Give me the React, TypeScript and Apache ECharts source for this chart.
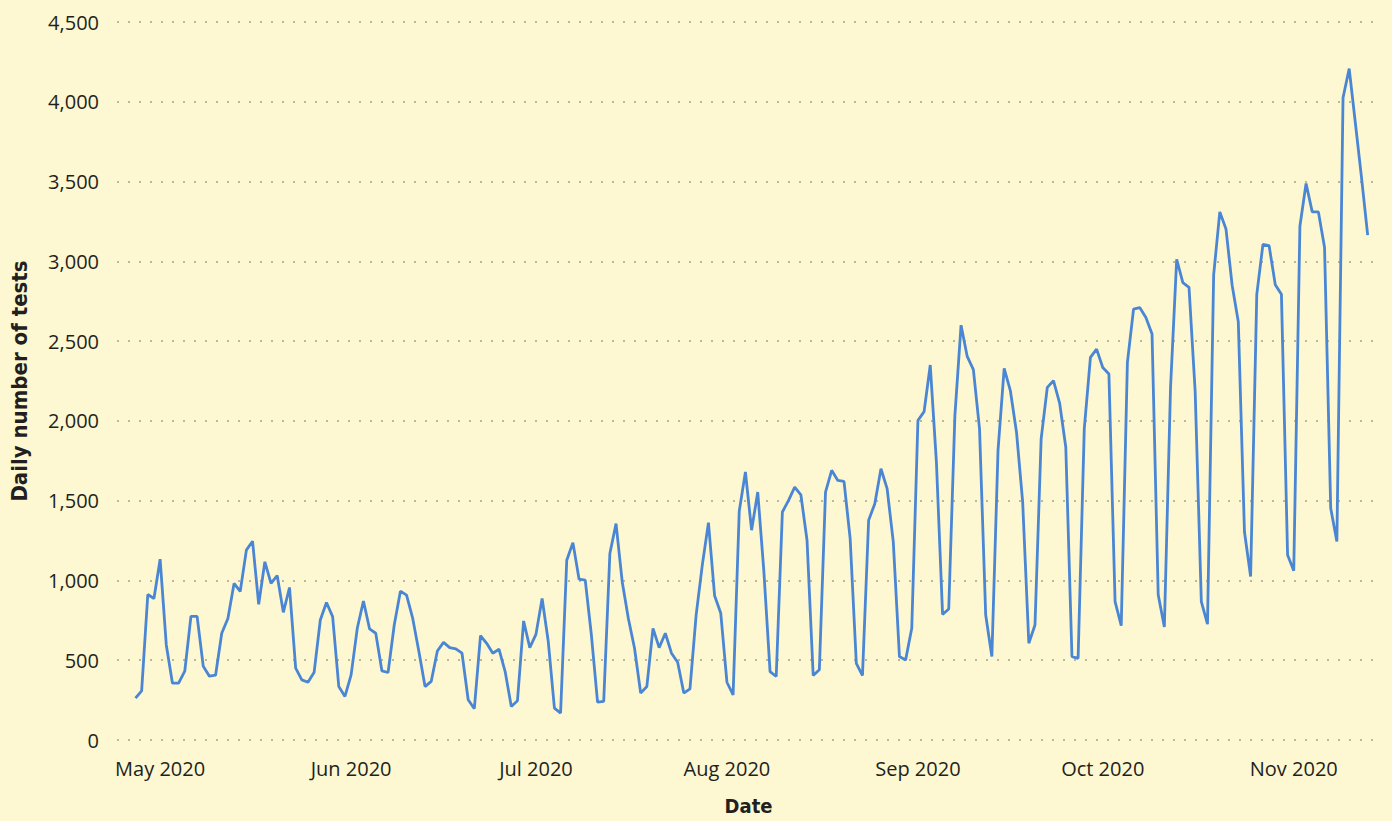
import React, { useEffect, useRef } from "react";
import * as echarts from "echarts";

// First day of the series (UTC date), one value per day
const START: [number, number, number] = [2020, 3, 27]; // 27 Apr 2020

const dailyTests: number[] = [
  262, 308, 912, 887, 1133, 596, 356, 356, 431, 775,
  775, 462, 400, 406, 669, 762, 981, 931, 1190, 1246,
  850, 1117, 981, 1031, 800, 956, 450, 377, 362, 425,
  752, 862, 773, 335, 273, 408, 700, 871, 696, 669,
  433, 423, 721, 933, 908, 762, 554, 335, 367, 558,
  612, 579, 571, 544, 252, 196, 654, 606, 544, 569,
  429, 210, 246, 746, 579, 662, 887, 617, 200, 169,
  1127, 1237, 1008, 1002, 658, 237, 242, 1169, 1356, 992,
  762, 575, 294, 335, 700, 579, 669, 544, 487, 294,
  321, 783, 1096, 1362, 904, 794, 362, 283, 1435, 1680,
  1315, 1554, 1054, 429, 398, 1429, 1502, 1585, 1537, 1252,
  404, 440, 1554, 1690, 1627, 1621, 1262, 481, 404, 1377,
  1481, 1700, 1575, 1242, 523, 502, 700, 2002, 2058, 2350,
  1742, 787, 821, 2033, 2600, 2404, 2321, 1950, 783, 523,
  1815, 2329, 2190, 1929, 1492, 606, 721, 1887, 2210, 2252,
  2112, 1835, 523, 512, 1950, 2398, 2450, 2335, 2294, 867,
  717, 2367, 2700, 2710, 2648, 2544, 910, 708, 2208, 3013,
  2866, 2837, 2184, 867, 726, 2915, 3310, 3203, 2850, 2622,
  1305, 1025, 2793, 3106, 3098, 2854, 2793, 1159, 1061, 3220,
  3488, 3310, 3310, 3086, 1452, 1244, 4025, 4208, 3867, 3525,
  3164,
];

// Month-start tick labels (year, month 0-based)
const monthTicks: [number, number][] = [
  [2020, 4], [2020, 5], [2020, 6], [2020, 7], [2020, 8], [2020, 9], [2020, 10],
];
const monthNames = ["Jan", "Feb", "Mar", "Apr", "May", "Jun", "Jul", "Aug", "Sep", "Oct", "Nov", "Dec"];

// Visible date range of the x axis
const X_MIN: [number, number, number] = [2020, 3, 24];
const X_MAX: [number, number, number] = [2020, 10, 15];

const Y_MIN = 0;
const Y_MAX = 4500;
const Y_STEP = 500;

const X_TITLE = "Date";
const Y_TITLE = "Daily number of tests";

const DAY = 86400000;
const utc = (d: [number, number, number]) => Date.UTC(d[0], d[1], d[2]);
const ORIGIN = utc(X_MIN);
const dayOffset = (t: number) => Math.round((t - ORIGIN) / DAY);

export default function App() {
  const ref = useRef<HTMLDivElement>(null);

  useEffect(() => {
    document.body.style.margin = "0";
    document.body.style.background = "#fdf8d1";
    if (!ref.current) return;
    const chart = echarts.init(ref.current, undefined, { renderer: "svg" });

    const startOffset = dayOffset(utc(START));
    const seriesData = dailyTests.map((v, i) => [startOffset + i, v]);
    const tickValues = monthTicks.map(([y, m]) => dayOffset(Date.UTC(y, m, 1)));

    const textColor = "#231f20";
    const font = "'Open Sans', 'Noto Sans', sans-serif";
    const titleFont = "'DejaVu Sans Condensed', 'Liberation Sans Narrow', 'Open Sans', sans-serif";

    chart.setOption({
      animation: false,
      backgroundColor: "#fdf8d1",
      grid: { left: 116, right: 12, top: 22, bottom: 79, containLabel: false },
      xAxis: {
        type: "value",
        min: 0,
        max: dayOffset(utc(X_MAX)),
        name: X_TITLE,
        nameLocation: "middle",
        nameGap: 56,
        nameTextStyle: {
          color: textColor,
          fontFamily: titleFont,
          fontWeight: "bold",
          fontSize: 20,
        },
        axisLine: { show: false },
        axisTick: { show: false },
        splitLine: { show: false },
        axisLabel: {
          customValues: tickValues,
          color: textColor,
          fontFamily: font,
          fontSize: 20,
          margin: 18,
          formatter: (val: number) => {
            const d = new Date(ORIGIN + val * DAY);
            return `${monthNames[d.getUTCMonth()]} ${d.getUTCFullYear()}`;
          },
        },
      },
      yAxis: {
        type: "value",
        min: Y_MIN,
        max: Y_MAX,
        interval: Y_STEP,
        name: Y_TITLE,
        nameLocation: "middle",
        nameGap: 87,
        nameTextStyle: {
          color: textColor,
          fontFamily: titleFont,
          fontWeight: "bold",
          fontSize: 22,
        },
        axisLine: { show: false },
        axisTick: { show: false },
        axisLabel: {
          color: textColor,
          fontFamily: font,
          fontSize: 20,
          margin: 18,
          formatter: (v: number) => v.toLocaleString("en-US"),
        },
        splitLine: {
          show: true,
          lineStyle: { color: "#bab79d", width: 2, type: [2, 9] },
        },
      },
      series: [
        {
          type: "line",
          data: seriesData,
          showSymbol: false,
          symbol: "none",
          lineStyle: { color: "#4a86d4", width: 2.8 },
          itemStyle: { color: "#4a86d4" },
        },
      ],
    });

    return () => chart.dispose();
  }, []);

  return <div ref={ref} style={{ width: 1392, height: 821 }} />;
}
